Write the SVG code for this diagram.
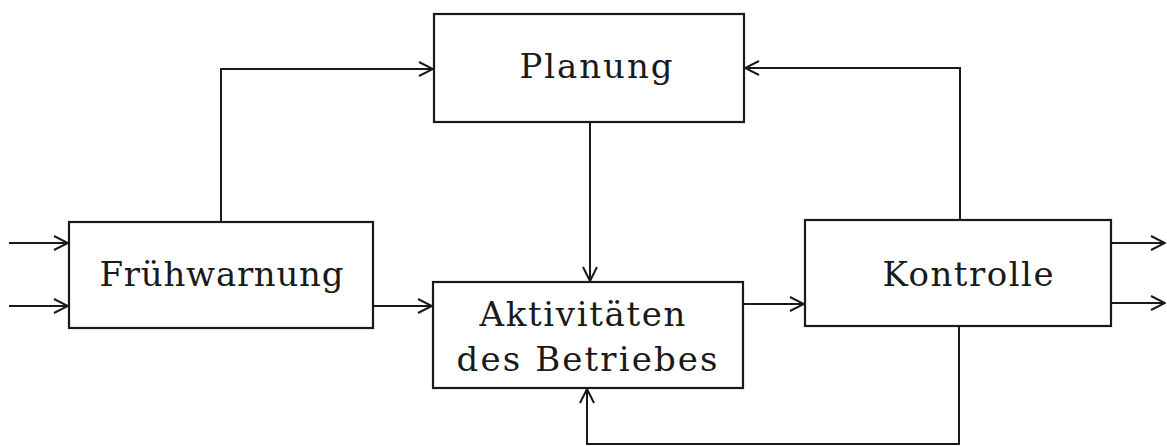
<svg xmlns="http://www.w3.org/2000/svg" width="1167" height="446" viewBox="0 0 1167 446">
<style>
.box{fill:#fff;stroke:#1a1a1a;stroke-width:2.2}
.ln{fill:none;stroke:#1a1a1a;stroke-width:2}
.t{font-family:"DejaVu Serif","Liberation Serif",serif;font-size:34px;fill:#1a1a1a;text-anchor:middle}
</style>
<defs>
<marker id="ah" viewBox="0 0 16 16" refX="15" refY="8" markerWidth="16" markerHeight="16" markerUnits="userSpaceOnUse" orient="auto">
<path d="M1,1 L15,8 L1,15" fill="none" stroke="#1a1a1a" stroke-width="2"/>
</marker>
</defs>
<rect width="1167" height="446" fill="#fff"/>
<g id="connectors">
<path class="ln" d="M9,243 H68" marker-end="url(#ah)"/>
<path class="ln" d="M9,306 H68" marker-end="url(#ah)"/>
<path class="ln" d="M221,222 V69 H433" marker-end="url(#ah)"/>
<path class="ln" d="M960,220 V68 H745" marker-end="url(#ah)"/>
<path class="ln" d="M590,122 V281" marker-end="url(#ah)"/>
<path class="ln" d="M373,306 H432" marker-end="url(#ah)"/>
<path class="ln" d="M743,304 H804" marker-end="url(#ah)"/>
<path class="ln" d="M1111,243 H1165" marker-end="url(#ah)"/>
<path class="ln" d="M1111,303 H1165" marker-end="url(#ah)"/>
<path class="ln" d="M959,326 V444 H587 V389" marker-end="url(#ah)"/>
</g>
<g id="fruehwarnung">
<rect class="box" x="69" y="222" width="304" height="106"/>
<text class="t" x="221.5" y="286" textLength="244">Frühwarnung</text>
</g>
<g id="planung">
<rect class="box" x="434" y="14" width="310" height="108"/>
<text class="t" x="596" y="78" textLength="153">Planung</text>
</g>
<g id="aktivitaeten">
<rect class="box" x="433" y="282" width="310" height="106"/>
<text class="t" x="582.5" y="326" textLength="206">Aktivitäten</text>
<text class="t" x="587" y="371" textLength="261">des Betriebes</text>
</g>
<g id="kontrolle">
<rect class="box" x="805" y="220" width="306" height="106"/>
<text class="t" x="968" y="286" textLength="171">Kontrolle</text>
</g>
</svg>
